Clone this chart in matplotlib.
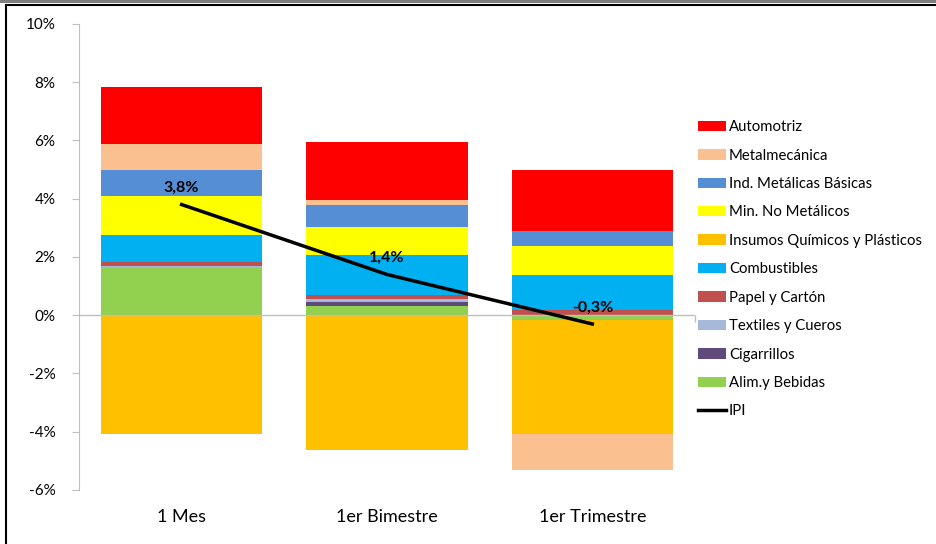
import matplotlib
matplotlib.use("Agg")
import matplotlib.pyplot as plt
from matplotlib.lines import Line2D
from matplotlib.patches import Patch, Rectangle
from matplotlib.ticker import FuncFormatter, MultipleLocator
import numpy as np

plt.rcParams['font.family'] = ['Lato', 'DejaVu Sans']

periodos = ["1 Mes", "1er Bimestre", "1er Trimestre"]

# series in Excel order (first one is stacked closest to zero)
sectores = ["Alim.y Bebidas", "Cigarrillos", "Textiles y Cueros", "Papel y Cartón",
            "Combustibles", "Insumos Químicos y Plásticos", "Min. No Metálicos",
            "Ind. Metálicas Básicas", "Metalmecánica", "Automotriz"]
colores = ["#92D050", "#604A7B", "#A6B9DB", "#C0504D", "#00B0F0",
           "#FFC000", "#FFFF00", "#558ED5", "#FAC090", "#FF0000"]

alim = [1.65, 0.32, -0.16]
cigarrillos = [0.0, 0.13, 0.0]
textiles = [0.03, 0.10, 0.0]
papel = [0.16, 0.16, 0.19]
combustibles = [0.90, 1.35, 1.20]
insumos = [-4.07, -4.62, -3.91]
min_no_met = [1.37, 0.96, 0.98]
ind_metalicas = [0.89, 0.75, 0.51]
metalmecanica = [0.89, 0.20, -1.23]
automotriz = [1.95, 1.98, 2.10]

ipi = [3.8, 1.4, -0.3]

series = [alim, cigarrillos, textiles, papel, combustibles, insumos,
          min_no_met, ind_metalicas, metalmecanica, automotriz]

fig = plt.figure(figsize=(9.37, 5.44), dpi=100)
ax = fig.add_axes([0.0843, 0.0993, 0.6574, 0.8566])

x = np.arange(len(periodos))
pos_base = np.zeros(len(periodos))
neg_base = np.zeros(len(periodos))
for vals, col in zip(series, colores):
    v = np.array(vals)
    base = np.where(v >= 0, pos_base, neg_base)
    ax.bar(x, v, bottom=base, width=0.785, color=col, linewidth=0, zorder=2)
    pos_base += np.where(v >= 0, v, 0)
    neg_base += np.where(v < 0, v, 0)

ax.plot(x, ipi, color="black", linewidth=2.5, zorder=4)
for xi, yi in zip(x, ipi):
    txt = f"{yi:.1f}%".replace(".", ",")
    ax.annotate(txt, (xi, yi), xytext=(0, 12), textcoords="offset points",
                ha="center", va="center", fontsize=11.5, fontweight="bold", zorder=5)

ax.set_xlim(-0.5, 2.5)
ax.set_ylim(-6, 10)
ax.yaxis.set_major_locator(MultipleLocator(2))
ax.yaxis.set_major_formatter(FuncFormatter(lambda v, p: f"{v:.0f}%"))
ax.tick_params(axis="y", length=5, color="#BFBFBF", labelsize=11, pad=12)
ax.set_xticks(x)
ax.set_xticklabels(periodos, fontsize=13)
ax.tick_params(axis="x", length=0, pad=14)

for s in ["top", "right", "bottom"]:
    ax.spines[s].set_visible(False)
ax.spines["left"].set_color("#BFBFBF")
ax.axhline(0, color="#BFBFBF", linewidth=1, zorder=3)
ax.vlines(2.5, -0.22, 0, color="#BFBFBF", linewidth=1, clip_on=False)

handles = [Patch(facecolor=c, edgecolor="none") for c in colores][::-1]
labels = sectores[::-1]
handles.append(Line2D([], [], color="black", linewidth=2.5))
labels.append("IPI")
fig.legend(handles, labels, loc="center left", bbox_to_anchor=(0.731, 0.505),
           frameon=False, fontsize=10.7, handlelength=1.85, handleheight=0.7,
           handletextpad=0.2, labelspacing=0.97)

# outer frame
fig.add_artist(Rectangle((0, 1 - 3 / 544), 1, 3 / 544, transform=fig.transFigure,
                         facecolor="#7F7F7F", edgecolor="none"))
fig.add_artist(Line2D([6 / 937, 1], [1 - 5 / 544, 1 - 5 / 544], transform=fig.transFigure,
                      color="black", linewidth=1.5))
fig.add_artist(Line2D([6 / 937, 6 / 937], [0, 1 - 5 / 544], transform=fig.transFigure,
                      color="black", linewidth=1.5))

fig.savefig("out.png", dpi=100)
